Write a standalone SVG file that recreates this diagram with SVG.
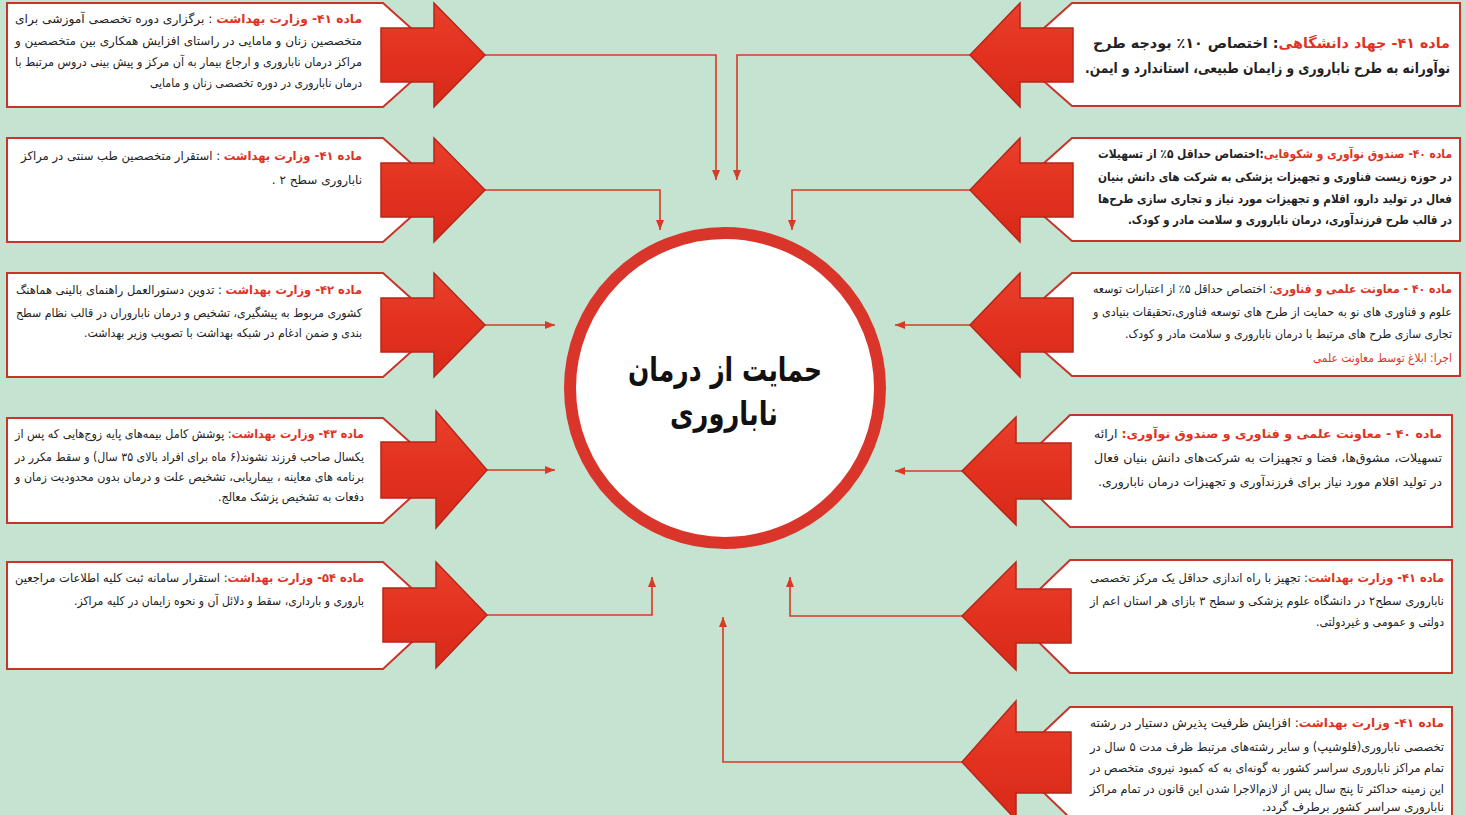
<svg xmlns="http://www.w3.org/2000/svg" width="1466" height="815" viewBox="0 0 1466 815">
<defs>
<marker id="ah" viewBox="0 0 10 8" refX="10" refY="4" markerWidth="10" markerHeight="8" markerUnits="userSpaceOnUse" orient="auto"><path d="M0,0 L10,4 L0,8 z" fill="#d93a25"/></marker>
<linearGradient id="rg" x1="0" y1="0" x2="0" y2="1"><stop offset="0" stop-color="#e8402c"/><stop offset="0.5" stop-color="#e3311f"/><stop offset="1" stop-color="#d72a19"/></linearGradient>
<style>
.bg{fill:#c4e3d1}
.box{fill:#ffffff;stroke:#c8342a;stroke-width:2}
.arr{fill:url(#rg);stroke:#b8261a;stroke-width:1.5;stroke-linejoin:miter}
.con{fill:none;stroke:#d93a25;stroke-width:1.6;marker-end:url(#ah)}
.t{font-family:"DejaVu Sans","Noto Sans",sans-serif;font-size:12px;fill:#222;direction:rtl;text-anchor:start}
.tb{font-weight:bold}
.big{font-size:14.5px}
.h{fill:#e0321f;font-weight:bold}
.rn{fill:#e0321f}
.title{font-family:"DejaVu Sans","Noto Sans",sans-serif;font-size:33px;font-weight:bold;fill:#111;text-anchor:middle;direction:rtl}
</style>
</defs>
<rect class="bg" x="0" y="0" width="1466" height="815"/>

<g id="connectors">
<polyline class="con" points="485,55 716,55 716,180"/>
<polyline class="con" points="970,55 737,55 737,180"/>
<polyline class="con" points="485,190 660,190 660,230"/>
<polyline class="con" points="970,190 792,190 792,230"/>
<polyline class="con" points="485,325 555,325"/>
<polyline class="con" points="970,325 895,325"/>
<polyline class="con" points="487,470 555,470"/>
<polyline class="con" points="962,471 895,471"/>
<polyline class="con" points="487,615 652,615 652,577"/>
<polyline class="con" points="962,616 790,616 790,577"/>
<polyline class="con" points="962,762 723,762 723,617"/>
</g>

<g id="center">
<circle cx="725" cy="388" r="155" fill="#ffffff" stroke="#d9352a" stroke-width="12"/>
<text class="title" x="725" y="381" textLength="194" lengthAdjust="spacingAndGlyphs">حمایت از درمان</text>
<text class="title" x="724" y="425" textLength="108" lengthAdjust="spacingAndGlyphs">ناباروری</text>
</g>

<g id="left1">
<polygon class="box" points="7,3 383,3 441,55 383,107 7,107"/>
<polygon class="arr" points="381,28 434,28 434,3 485,55 434,107 434,82 381,82"/>
<text class="t" x="362" y="23" textLength="347" lengthAdjust="spacingAndGlyphs"><tspan class="h">ماده ۴۱- وزارت بهداشت</tspan> : برگزاری دوره تخصصی آموزشی برای</text>
<text class="t" x="362" y="45" textLength="347" lengthAdjust="spacingAndGlyphs">متخصصین زنان و مامایی در راستای افزایش همکاری بین متخصصین و</text>
<text class="t" x="362" y="66" textLength="347" lengthAdjust="spacingAndGlyphs">مراکز درمان ناباروری و ارجاع بیمار به آن مرکز و پیش بینی دروس مرتبط با</text>
<text class="t" x="362" y="87" textLength="212" lengthAdjust="spacingAndGlyphs">درمان ناباروری در دوره تخصصی زنان و مامایی</text>
</g>

<g id="left2">
<polygon class="box" points="7,138 383,138 441,190 383,242 7,242"/>
<polygon class="arr" points="381,163 434,163 434,138 485,190 434,242 434,217 381,217"/>
<text class="t" x="362" y="160" textLength="341" lengthAdjust="spacingAndGlyphs"><tspan class="h">ماده ۴۱- وزارت بهداشت</tspan> : استقرار متخصصین طب سنتی در مراکز</text>
<text class="t" x="362" y="184">ناباروری سطح ۲ .</text>
</g>

<g id="left3">
<polygon class="box" points="7,273 383,273 441,325 383,377 7,377"/>
<polygon class="arr" points="381,298 434,298 434,273 485,325 434,377 434,352 381,352"/>
<text class="t" x="362" y="294" textLength="346" lengthAdjust="spacingAndGlyphs"><tspan class="h">ماده ۴۲- وزارت بهداشت</tspan> : تدوین دستورالعمل راهنمای بالینی هماهنگ</text>
<text class="t" x="362" y="317" textLength="346" lengthAdjust="spacingAndGlyphs">کشوری مربوط به پیشگیری، تشخیص و درمان ناباروران در قالب نظام سطح</text>
<text class="t" x="362" y="337" textLength="278" lengthAdjust="spacingAndGlyphs">بندی و ضمن ادغام در شبکه بهداشت با تصویب وزیر بهداشت.</text>
</g>

<g id="left4">
<polygon class="box" points="7,418 383,418 441,470 383,523 7,523"/>
<polygon class="arr" points="381,442 436,442 436,411 487,470 436,528 436,498 381,498"/>
<text class="t" x="364" y="438" textLength="349" lengthAdjust="spacingAndGlyphs"><tspan class="h">ماده ۴۳- وزارت بهداشت</tspan>: پوشش کامل بیمه‌های پایه زوج‌هایی که پس از</text>
<text class="t" x="364" y="461" textLength="349" lengthAdjust="spacingAndGlyphs">یکسال صاحب فرزند نشوند(۶ ماه برای افراد بالای ۳۵ سال) و سقط مکرر در</text>
<text class="t" x="364" y="481" textLength="349" lengthAdjust="spacingAndGlyphs">برنامه های معاینه ، بیماریابی، تشخیص علت و درمان بدون محدودیت زمان و</text>
<text class="t" x="364" y="501" textLength="146" lengthAdjust="spacingAndGlyphs">دفعات به تشخیص پزشک معالج.</text>
</g>

<g id="left5">
<polygon class="box" points="7,562 383,562 441,615 383,669 7,669"/>
<polygon class="arr" points="383,588 436,588 436,562 487,615 436,668 436,642 383,642"/>
<text class="t" x="364" y="582" textLength="349" lengthAdjust="spacingAndGlyphs"><tspan class="h">ماده ۵۴- وزارت بهداشت</tspan>: استقرار سامانه ثبت کلیه اطلاعات مراجعین</text>
<text class="t" x="364" y="605" textLength="290" lengthAdjust="spacingAndGlyphs">باروری و بارداری، سقط و دلائل آن و نحوه زایمان در کلیه مراکز.</text>
</g>

<g id="right1">
<polygon class="box" points="1460,3 1072,3 1014,55 1072,106 1460,106"/>
<polygon class="arr" points="1073,28 1020,28 1020,3 970,55 1020,107 1020,82 1073,82"/>
<text class="t tb big" x="1450" y="48" textLength="357" lengthAdjust="spacingAndGlyphs"><tspan class="h">ماده ۴۱- جهاد دانشگاهی</tspan>: اختصاص ۱۰٪ بودجه طرح</text>
<text class="t tb big" x="1450" y="73" textLength="365" lengthAdjust="spacingAndGlyphs">نوآورانه به طرح ناباروری و زایمان طبیعی، استاندارد و ایمن.</text>
</g>

<g id="right2">
<polygon class="box" points="1460,138 1072,138 1014,190 1072,241 1460,241"/>
<polygon class="arr" points="1073,163 1020,163 1020,138 970,190 1020,242 1020,217 1073,217"/>
<text class="t tb" x="1452" y="158" textLength="354" lengthAdjust="spacingAndGlyphs"><tspan class="h">ماده ۴۰- صندوق نوآوری و شکوفایی</tspan>:اختصاص حداقل ۵٪ از تسهیلات</text>
<text class="t tb" x="1452" y="181" textLength="354" lengthAdjust="spacingAndGlyphs">در حوزه زیست فناوری و تجهیزات پزشکی به شرکت های دانش بنیان</text>
<text class="t tb" x="1452" y="203" textLength="354" lengthAdjust="spacingAndGlyphs">فعال در تولید دارو، اقلام و تجهیزات مورد نیاز و تجاری سازی طرح‌ها</text>
<text class="t tb" x="1452" y="224" textLength="324" lengthAdjust="spacingAndGlyphs">در قالب طرح فرزندآوری، درمان ناباروری و سلامت مادر و کودک.</text>
</g>

<g id="right3">
<polygon class="box" points="1460,273 1072,273 1014,325 1072,376 1460,376"/>
<polygon class="arr" points="1073,298 1020,298 1020,273 970,325 1020,377 1020,352 1073,352"/>
<text class="t" x="1452" y="293" textLength="359" lengthAdjust="spacingAndGlyphs"><tspan class="h">ماده ۴۰ - معاونت علمی و فناوری</tspan>: اختصاص حداقل ۵٪ از اعتبارات توسعه</text>
<text class="t" x="1452" y="316" textLength="359" lengthAdjust="spacingAndGlyphs">علوم و فناوری های نو به حمایت از طرح های توسعه فناوری،تحقیقات بنیادی و</text>
<text class="t" x="1452" y="338" textLength="327" lengthAdjust="spacingAndGlyphs">تجاری سازی طرح های مرتبط با درمان ناباروری و سلامت مادر و کودک.</text>
<text class="t rn" x="1452" y="362" textLength="139" lengthAdjust="spacingAndGlyphs">اجرا: ابلاغ توسط معاونت علمی</text>
</g>

<g id="right4">
<polygon class="box" points="1452,415 1070,415 1012,471 1070,527 1452,527"/>
<polygon class="arr" points="1071,443 1016,443 1016,417 962,471 1016,525 1016,499 1071,499"/>
<text class="t" x="1442" y="438" textLength="348" lengthAdjust="spacingAndGlyphs"><tspan class="h">ماده ۴۰ - معاونت علمی و فناوری و صندوق نوآوری:</tspan>   ارائه</text>
<text class="t" x="1442" y="462" textLength="348" lengthAdjust="spacingAndGlyphs">تسهیلات، مشوق‌ها، فضا و تجهیزات به شرکت‌های دانش بنیان فعال</text>
<text class="t" x="1442" y="486" textLength="344" lengthAdjust="spacingAndGlyphs">در تولید اقلام مورد نیاز برای فرزندآوری و تجهیزات درمان ناباروری.</text>
</g>

<g id="right5">
<polygon class="box" points="1452,560 1070,560 1012,616 1070,673 1452,673"/>
<polygon class="arr" points="1071,589 1016,589 1016,562 962,616 1016,670 1016,643 1071,643"/>
<text class="t" x="1444" y="582" textLength="354" lengthAdjust="spacingAndGlyphs"><tspan class="h">ماده ۴۱- وزارت بهداشت</tspan>:  تجهیز با راه اندازی حداقل یک مرکز تخصصی</text>
<text class="t" x="1444" y="605" textLength="354" lengthAdjust="spacingAndGlyphs">ناباروری سطح۲ در دانشگاه علوم پزشکی و سطح ۳ بازای هر استان اعم از</text>
<text class="t" x="1444" y="626" textLength="128" lengthAdjust="spacingAndGlyphs">دولتی و عمومی و غیردولتی.</text>
</g>

<g id="right6">
<polygon class="box" points="1452,707 1070,707 1012,762 1070,818 1452,818"/>
<polygon class="arr" points="1071,732 1016,732 1016,701 962,762 1016,820 1016,793 1071,793"/>
<text class="t" x="1444" y="727" textLength="354" lengthAdjust="spacingAndGlyphs"><tspan class="h">ماده ۴۱- وزارت بهداشت</tspan>: افزایش ظرفیت پذیرش دستیار در رشته</text>
<text class="t" x="1444" y="751" textLength="354" lengthAdjust="spacingAndGlyphs">تخصصی ناباروری(فلوشیپ) و سایر رشته‌های مرتبط ظرف مدت ۵ سال در</text>
<text class="t" x="1444" y="772" textLength="354" lengthAdjust="spacingAndGlyphs">تمام مراکز ناباروری سراسر کشور به گونه‌ای به که کمبود نیروی متخصص در</text>
<text class="t" x="1444" y="793" textLength="354" lengthAdjust="spacingAndGlyphs">این زمینه حداکثر تا پنج سال پس از لازم‌الاجرا شدن این قانون در تمام مراکز</text>
<text class="t" x="1444" y="811" textLength="182" lengthAdjust="spacingAndGlyphs">ناباروری سراسر کشور برطرف گردد.</text>
</g>
</svg>
